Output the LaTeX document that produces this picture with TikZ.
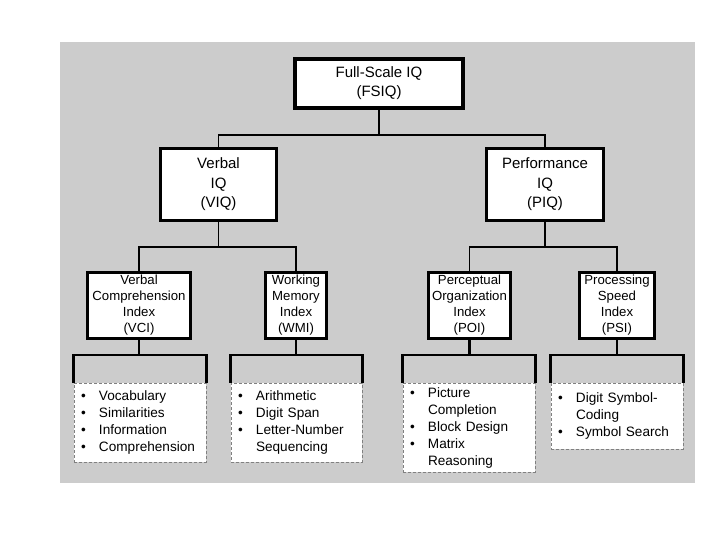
\documentclass[tikz,border=0pt]{standalone}
\usepackage{fontspec}
\setmainfont{Liberation Sans}
\definecolor{bggray}{RGB}{204,204,204}
\definecolor{dashgray}{RGB}{128,128,128}
\tikzset{
  top/.style={draw=black, fill=white, line width=4pt, inner sep=0pt, align=center,
    font=\fontsize{15}{19}\selectfont},
  mid/.style={draw=black, fill=white, line width=3pt, inner sep=0pt, align=center,
    minimum height=72pt, font=\fontsize{15}{19.5}\selectfont},
  idx/.style={draw=black, fill=white, line width=3pt, inner sep=0pt, align=center,
    minimum height=66pt, font=\fontsize{13.2}{16}\selectfont},
  lst/.style={draw=dashgray, fill=white, line width=1pt, dash pattern=on 3pt off 2pt,
    inner xsep=7pt, inner ysep=0pt, text width=118pt, align=left,
    font=\fontsize{13.6}{17}\selectfont},
  conn/.style={draw=black, line width=1.6pt},
  brk/.style={draw=black, line width=2.2pt},
}
\newcommand{\bul}{\makebox[18pt][l]{\textbullet}}
\newcommand{\ind}{\hspace*{18pt}}
\begin{document}
\begin{tikzpicture}[x=1pt, y=-1pt]
\useasboundingbox (0,0) rectangle (720,540);
\fill[bggray] (60,42) rectangle (695,483);

% connector junctions
\coordinate (j0) at (379,135);
\coordinate (jv) at (218.5,247);
\coordinate (jp) at (545,247);
\coordinate (j1) at (139,355);
\coordinate (j2) at (296,355);
\coordinate (j3) at (469.5,355);
\coordinate (j4) at (617,355);

% lists (drawn first so brackets sit on top)
\node[lst, minimum height=79pt] (vcil) at (140,422.5)
  {\bul Vocabulary\\\bul Similarities\\\bul Information\\\bul Comprehension};
\node[lst, minimum height=79pt, text width=117pt] (wmil) at (296.5,422.5)
  {\bul Arithmetic\\\bul Digit Span\\\bul Letter-Number\\\ind Sequencing};
\node[lst, minimum height=89pt] (poil) at (469,427.5)
  {\bul Picture\\\ind Completion\\\bul Block Design\\\bul Matrix\\\ind Reasoning};
\node[lst, minimum height=66pt] (psil) at (617,416)
  {\bul Digit Symbol-\\\ind Coding\\\bul Symbol Search};

% connectors
\draw[conn] (j0) -- (379,108);
\draw[conn] (jv) -- (218.5,222);
\draw[conn] (jp) -- (545,222);

% boxes
\node[top, minimum width=168pt, minimum height=49pt] (fsiq) at (379,83.5) {Full-Scale IQ\\(FSIQ)};
\node[mid, minimum width=116pt] (viq) at (218.5,184.5) {Verbal\\IQ\\(VIQ)};
\node[mid, minimum width=117pt] (piq) at (545,184.5) {Performance\\IQ\\(PIQ)};
\node[idx, minimum width=103pt] (vci) at (139,305.5) {Verbal\\Comprehension\\Index\\(VCI)};
\node[idx, minimum width=61pt] (wmi) at (296,305.5) {Working\\Memory\\Index\\(WMI)};
\node[idx, minimum width=82pt] (poi) at (469.5,305.5) {Perceptual\\Organization\\Index\\(POI)};
\node[idx, minimum width=75pt] (psi) at (617,305.5) {Processing\\Speed\\Index\\(PSI)};

\begin{scope}[on background layer/.style={}]
\draw[conn] (fsiq.south) -- (j0);
\draw[conn] (viq.north) |- (j0) -| (piq.north);
\draw[conn] (viq.south) -- (jv);
\draw[conn] (vci.north) |- (jv) -| (wmi.north);
\draw[conn] (piq.south) -- (jp);
\draw[conn] (poi.north) |- (jp) -| (psi.north);
\draw[brk] (vci.south) -- (j1);
\draw[brk] (vcil.north west) |- (j1) -| (vcil.north east);
\draw[brk] (wmi.south) -- (j2);
\draw[brk] (wmil.north west) |- (j2) -| (wmil.north east);
\draw[brk] (poi.south) -- (j3);
\draw[brk] (poil.north west) |- (j3) -| (poil.north east);
\draw[brk] (psi.south) -- (j4);
\draw[brk] (psil.north west) |- (j4) -| (psil.north east);
\end{scope}
\end{tikzpicture}
\end{document}
